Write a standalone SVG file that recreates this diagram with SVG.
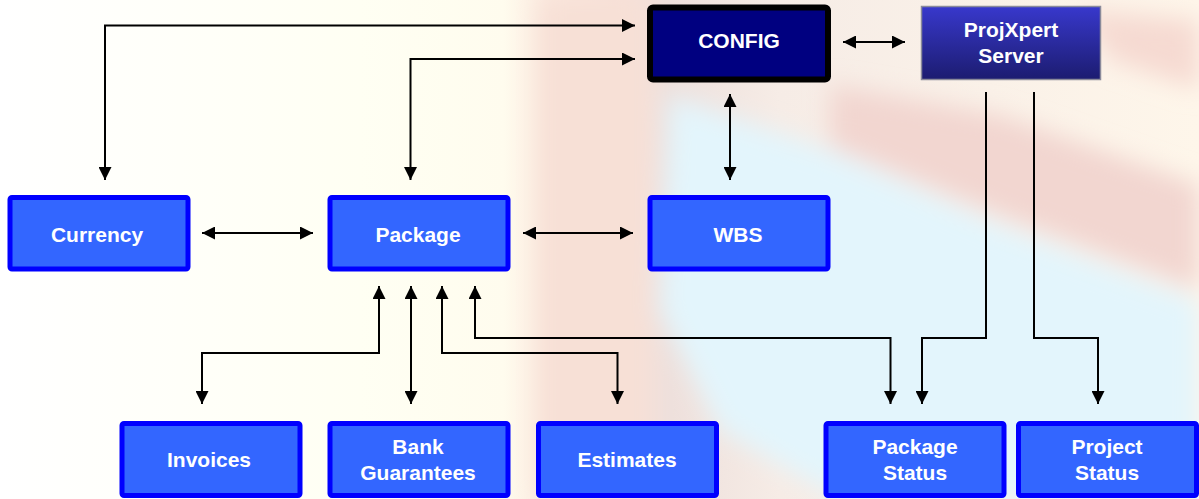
<svg xmlns="http://www.w3.org/2000/svg" width="1199" height="499" viewBox="0 0 1199 499">
<defs>
<style>
.box{fill:#3366ff;stroke:#0000ff;stroke-width:5}
.lbl{font-family:"Liberation Sans",Arial,sans-serif;font-weight:bold;font-size:21px;fill:#ffffff;text-anchor:middle}
.ln{fill:none;stroke:#000000;stroke-width:2}
.bi{marker-start:url(#ah);marker-end:url(#ah)}
.uni{marker-end:url(#ah)}
</style>
<marker id="ah" markerUnits="userSpaceOnUse" markerWidth="13" markerHeight="13" viewBox="0 0 13 13" refX="13" refY="6.5" orient="auto-start-reverse">
<path d="M0,0 L13,6.5 L0,13 Z" fill="#000000"/>
</marker>
<linearGradient id="bg" x1="0" y1="0" x2="1" y2="0">
<stop offset="0" stop-color="#ffffff"/>
<stop offset="0.3" stop-color="#fffff3"/>
<stop offset="0.42" stop-color="#fffcee"/>
<stop offset="0.46" stop-color="#fbe8de"/>
<stop offset="0.52" stop-color="#f7e0d8"/>
<stop offset="0.56" stop-color="#eee0dc"/>
<stop offset="0.65" stop-color="#f6ece6"/>
<stop offset="1" stop-color="#fef6ea"/>
</linearGradient>
<linearGradient id="srv" x1="0" y1="0" x2="0" y2="1">
<stop offset="0" stop-color="#3838cc"/>
<stop offset="1" stop-color="#1c1c70"/>
</linearGradient>
<filter id="blur" x="-20%" y="-20%" width="140%" height="140%">
<feGaussianBlur stdDeviation="12"/>
</filter>
</defs>
<g id="background">
<rect x="0" y="0" width="1199" height="499" fill="url(#bg)"/>
<g filter="url(#blur)">
<polygon points="830,85 1000,115 1199,185 1199,290 1000,215 830,145" fill="#f2d6d0"/>
<polygon points="1080,10 1199,20 1199,90 1110,60" fill="#f6dad2"/>
<polygon points="540,0 645,0 645,499 540,499" fill="#f7e0d6"/>
<polygon points="670,95 830,150 1000,225 1199,300 1199,499 840,499 720,430 660,310" fill="#e3f5fc"/>
</g>
</g>
<g id="connectors">
<path class="ln bi" d="M105,180 V25.5 H635"/>
<path class="ln bi" d="M410.5,180 V59 H635"/>
<path class="ln bi" d="M843,42 H905"/>
<path class="ln bi" d="M730,94 V180"/>
<path class="ln bi" d="M202,233 H313"/>
<path class="ln bi" d="M523,233 H633"/>
<path class="ln bi" d="M379,286 V353 H202 V404"/>
<path class="ln bi" d="M411,286 V404"/>
<path class="ln bi" d="M442,286 V353 H617.5 V404"/>
<path class="ln bi" d="M475,286 V338 H890.5 V404"/>
<path class="ln uni" d="M986,92 V338 H922 V404"/>
<path class="ln uni" d="M1034,92 V338 H1098 V404"/>
</g>
<g id="config">
<rect x="650" y="7.5" width="178" height="72" rx="3" fill="#000080" stroke="#000000" stroke-width="6"/>
<text class="lbl" x="739" y="48">CONFIG</text>
</g>
<g id="projxpert">
<rect x="921.5" y="6.5" width="179" height="73" fill="url(#srv)" stroke="#8a8a9a" stroke-width="1.5"/>
<text class="lbl" x="1011" y="37">ProjXpert</text>
<text class="lbl" x="1011" y="63">Server</text>
</g>
<g id="currency">
<rect class="box" x="10" y="197.5" width="178" height="71.5" rx="2"/>
<text class="lbl" x="97" y="242">Currency</text>
</g>
<g id="package">
<rect class="box" x="330" y="197.5" width="178" height="71.5" rx="2"/>
<text class="lbl" x="418" y="242">Package</text>
</g>
<g id="wbs">
<rect class="box" x="650" y="197.5" width="178" height="71.5" rx="2"/>
<text class="lbl" x="738" y="242">WBS</text>
</g>
<g id="invoices">
<rect class="box" x="122" y="423.5" width="178" height="72" rx="2"/>
<text class="lbl" x="209" y="467">Invoices</text>
</g>
<g id="bank-guarantees">
<rect class="box" x="330" y="423.5" width="178" height="72" rx="2"/>
<text class="lbl" x="418" y="454">Bank</text>
<text class="lbl" x="418" y="480">Guarantees</text>
</g>
<g id="estimates">
<rect class="box" x="538.5" y="423.5" width="178" height="72" rx="2"/>
<text class="lbl" x="627" y="467">Estimates</text>
</g>
<g id="package-status">
<rect class="box" x="826" y="423.5" width="178" height="72" rx="2"/>
<text class="lbl" x="915" y="454">Package</text>
<text class="lbl" x="915" y="480">Status</text>
</g>
<g id="project-status">
<rect class="box" x="1018.5" y="423.5" width="178" height="72" rx="2"/>
<text class="lbl" x="1107" y="454">Project</text>
<text class="lbl" x="1107" y="480">Status</text>
</g>
</svg>
